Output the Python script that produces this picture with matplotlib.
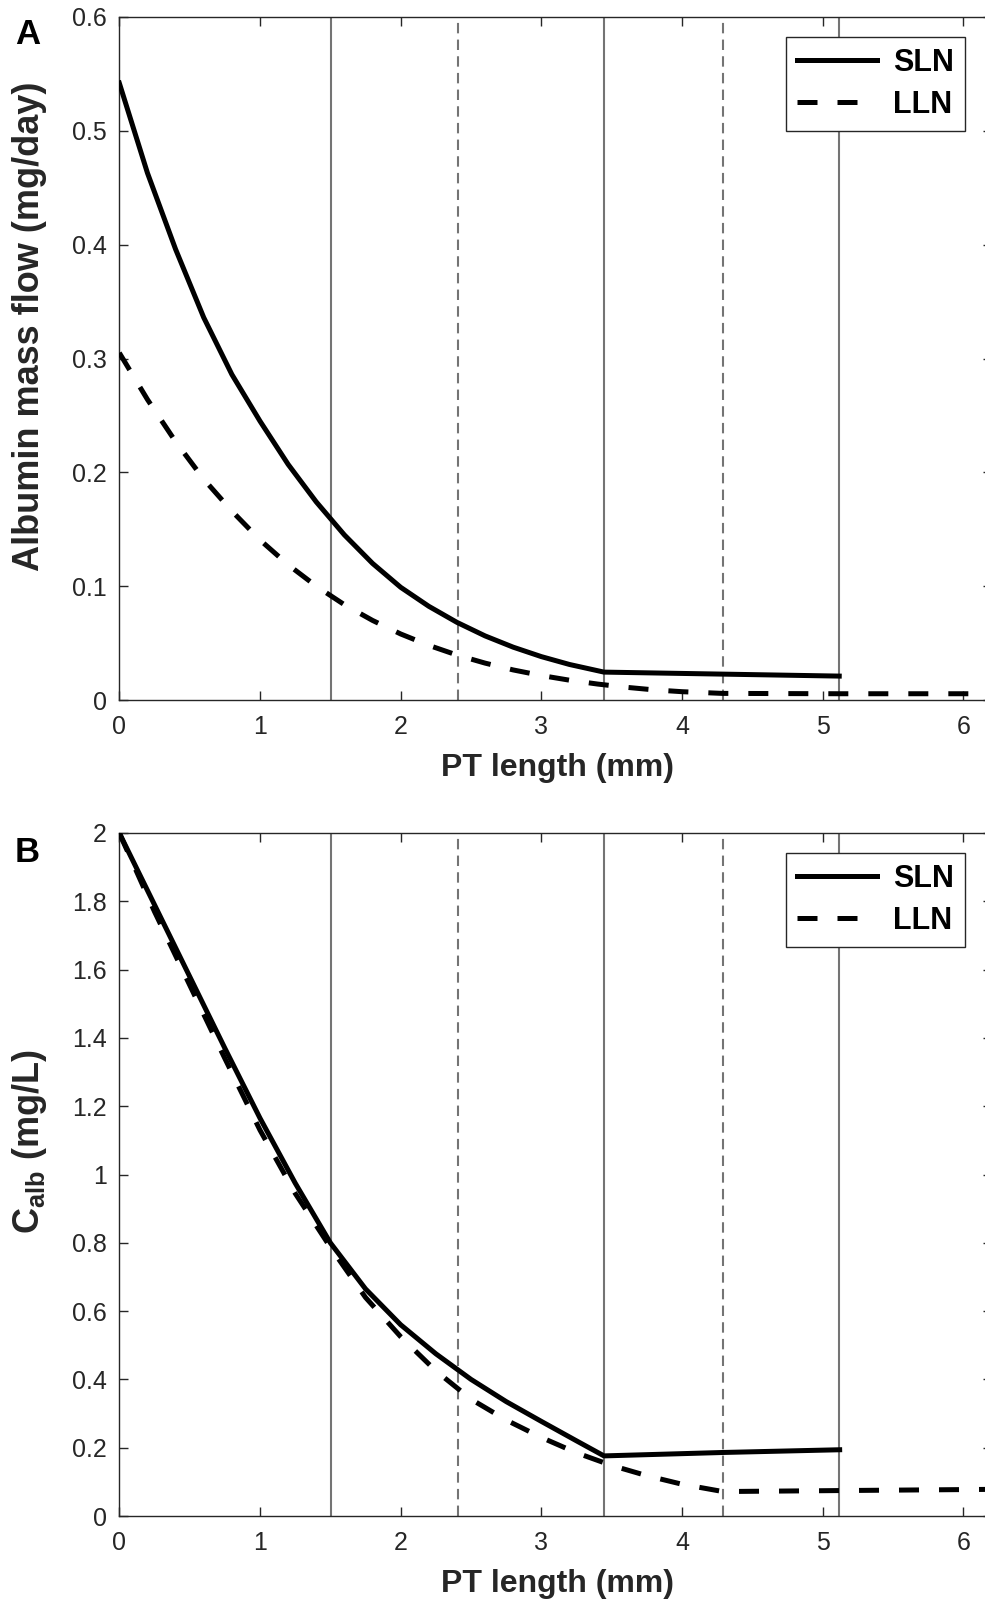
import numpy as np
import matplotlib.pyplot as plt
from matplotlib.ticker import FuncFormatter

plt.rcParams['font.family'] = ['Liberation Sans', 'DejaVu Sans']
plt.rcParams['mathtext.fontset'] = 'custom'
plt.rcParams['mathtext.rm'] = 'Liberation Sans'
plt.rcParams['mathtext.bf'] = 'Liberation Sans:bold'

# panel A: albumin mass flow (mg/day)
sln_a_x = [0, 0.2, 0.4, 0.6, 0.8, 1.0, 1.2, 1.4, 1.6, 1.8, 2.0, 2.2, 2.4, 2.6,
           2.8, 3.0, 3.2, 3.445, 5.117]
sln_a_y = [0.542, 0.463, 0.396, 0.336, 0.286, 0.245, 0.207, 0.174, 0.145, 0.120,
           0.099, 0.0823, 0.0682, 0.0563, 0.0464, 0.0381, 0.0312, 0.0245, 0.021]
lln_a_x = [0, 0.2, 0.4, 0.6, 0.8, 1.0, 1.2, 1.4, 1.6, 1.8, 2.0, 2.2, 2.4, 2.6,
           2.8, 3.0, 3.2, 3.4, 3.6, 3.8, 4.0, 4.286, 5.12, 6.2]
lln_a_y = [0.305, 0.264, 0.227, 0.194, 0.166, 0.1406, 0.1188, 0.100, 0.0837,
           0.0699, 0.058, 0.048, 0.0395, 0.0324, 0.0264, 0.0215, 0.0174, 0.014,
           0.0112, 0.0089, 0.0073, 0.0058, 0.0055, 0.0055]

# panel B: albumin concentration (mg/L)
sln_b_x = [0, 0.25, 0.5, 0.75, 1.0, 1.25, 1.5, 1.75, 2.0, 2.25, 2.5, 2.75, 3.0,
           3.25, 3.445, 4.29, 5.12]
sln_b_y = [2.0, 1.79, 1.58, 1.37, 1.165, 0.975, 0.80, 0.665, 0.56, 0.475, 0.40,
           0.335, 0.277, 0.22, 0.176, 0.186, 0.194]
lln_b_x = [0, 0.25, 0.5, 0.75, 1.0, 1.25, 1.5, 1.75, 2.0, 2.25, 2.5, 2.75, 3.0,
           3.25, 3.5, 3.75, 4.0, 4.29, 5.12, 6.2]
lln_b_y = [2.0, 1.77, 1.555, 1.34, 1.13, 0.945, 0.787, 0.64, 0.525, 0.425, 0.342,
           0.281, 0.23, 0.185, 0.148, 0.118, 0.093, 0.0716, 0.0745, 0.078]

# segment boundaries
solid_bounds = [1.505, 3.445, 5.117]
dashed_bounds = [2.408, 4.288]

panels = [
    dict(sln=(sln_a_x, sln_a_y), lln=(lln_a_x, lln_a_y), ylim=(0, 0.6),
         yticks=np.arange(0, 0.61, 0.1), ylabel='Albumin mass flow (mg/day)',
         tag='A'),
    dict(sln=(sln_b_x, sln_b_y), lln=(lln_b_x, lln_b_y), ylim=(0, 2),
         yticks=np.arange(0, 2.01, 0.2), ylabel=r'C$_{\mathbf{alb}}$ (mg/L)',
         tag='B'),
]

W, H = 985, 1605
fig = plt.figure(figsize=(W / 100, H / 100), dpi=100)

ax_left = 119.3
ax_w = 872.3
ax_h = 683
tops = [17, 833]
tag_pos = [(28, 34), (27, 852)]

fmt = FuncFormatter(lambda v, p: ('%.1f' % v).rstrip('0').rstrip('.'))
axcol = '#262626'
vcol = '#747474'

for i, pnl in enumerate(panels):
    bottom = tops[i] + ax_h
    ax = fig.add_axes([ax_left / W, 1 - bottom / H, ax_w / W, ax_h / H])
    for xb in solid_bounds:
        ax.axvline(xb, color=vcol, lw=1.5, zorder=1)
    for xb in dashed_bounds:
        ax.axvline(xb, color=vcol, lw=1.5, ls=(0, (5, 3)), zorder=1)
    ax.plot(*pnl['sln'], color='black', lw=3.6, label='SLN', zorder=3)
    ax.plot(*pnl['lln'], color='black', lw=3.6, ls=(0, (4, 4)), label='LLN',
            zorder=3)
    ax.set_xlim(0, 6.2)
    ax.set_ylim(*pnl['ylim'])
    ax.set_xticks(range(0, 7))
    ax.set_yticks(pnl['yticks'])
    ax.yaxis.set_major_formatter(fmt)
    ax.tick_params(direction='in', length=6.5, width=1, top=True, right=True,
                   labelsize=18, colors=axcol, pad=9)
    ax.tick_params(axis='x', pad=11)
    for s in ax.spines.values():
        s.set_color(axcol)
        s.set_linewidth(1)
    ax.set_xlabel('PT length (mm)', fontsize=23, fontweight='bold',
                  color=axcol, va='center')
    ax.xaxis.set_label_coords(0.502, -0.0996)
    ax.set_ylabel(pnl['ylabel'], fontsize=26, fontweight='bold', color=axcol,
                  va='center')
    ax.yaxis.set_label_coords(-0.1035, 0.5476)
    leg = ax.legend(loc='upper right', bbox_to_anchor=(0.9695, 0.9707),
                    borderaxespad=0, fontsize=22, frameon=True, fancybox=False,
                    framealpha=1, handlelength=2.6, handletextpad=0.55,
                    labelspacing=0.4, borderpad=0.35)
    leg.get_frame().set_edgecolor(axcol)
    leg.get_frame().set_linewidth(1)
    for t in leg.get_texts():
        t.set_fontweight('bold')
    fig.text(tag_pos[i][0] / W, 1 - tag_pos[i][1] / H, pnl['tag'],
             fontsize=25, fontweight='bold', ha='center', va='center')

fig.savefig('out.png', dpi=100)
